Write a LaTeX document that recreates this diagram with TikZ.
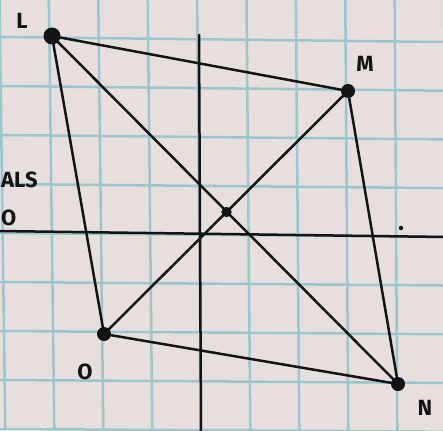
\documentclass[tikz,border=0pt]{standalone}
\usepackage{fontspec}
\setmainfont{Fira Sans}
\begin{document}
\begin{tikzpicture}[x=1pt,y=-1pt,
  gridline/.style={draw=gridc,line width=2.5pt},
  pen/.style={draw=ink,line width=2.5pt,line cap=round},
  bigdot/.style={circle,fill=ink,inner sep=0pt,minimum size=17pt},
  dotpt/.style={circle,fill=ink,inner sep=0pt,minimum size=14pt},
  smalldot/.style={circle,fill=ink,inner sep=0pt,minimum size=10pt},
  tinydot/.style={circle,fill=ink,inner sep=0pt,minimum size=4.5pt},
  lbl/.style={text=ink,font=\fontsize{22}{22}\selectfont\bfseries,inner sep=0pt}]
\definecolor{paper}{HTML}{E7DFDD}
\definecolor{gridc}{HTML}{9DC6CB}
\definecolor{ink}{HTML}{141414}
\useasboundingbox (0,0) rectangle (443,430);
\fill[paper] (0,0) rectangle (443,430);
\foreach \k in {0,...,9}{
  \draw[gridline] ({-0.5+49.4*\k},0) -- ({5.3+49*\k},430);
  \draw[gridline] (0,{-12+49*\k}) -- (443,{-6.7+48.7*\k});
}
% axes
\coordinate (vt) at (199,35);
\coordinate (vb) at (201,432);
\coordinate (hl) at (-2,231);
\coordinate (hr) at (445,237);
\draw[pen] (vt) -- (vb);
\draw[pen] (hl) -- (hr);
% points
\node[bigdot] (L) at (52,36) {};
\node[dotpt] (M) at (348,91) {};
\node[dotpt] (N) at (398,384) {};
\node[dotpt] (O) at (104,334) {};
\node[smalldot] (C) at (226.5,212) {};
\node[tinydot] (p) at (401,228) {};
% edges
\draw[pen] (L.center) -- (M.center) -- (N.center) -- (O.center) -- cycle;
\draw[pen] (L.center) -- (N.center);
\draw[pen] (M.center) -- (O.center);
\node[smalldot] at (C) {};
% labels
\node[lbl] (tL) at (22,21) {L};
\node[lbl] (tM) at (365,64) {M};
\node[lbl] (tO) at (85,372) {O};
\node[lbl] (tN) at (425,408) {N};
\node[lbl,anchor=west] (tA) at (1,180) {ALS};
\node[lbl,anchor=west] (tD) at (1,218) {O};
\end{tikzpicture}
\end{document}
